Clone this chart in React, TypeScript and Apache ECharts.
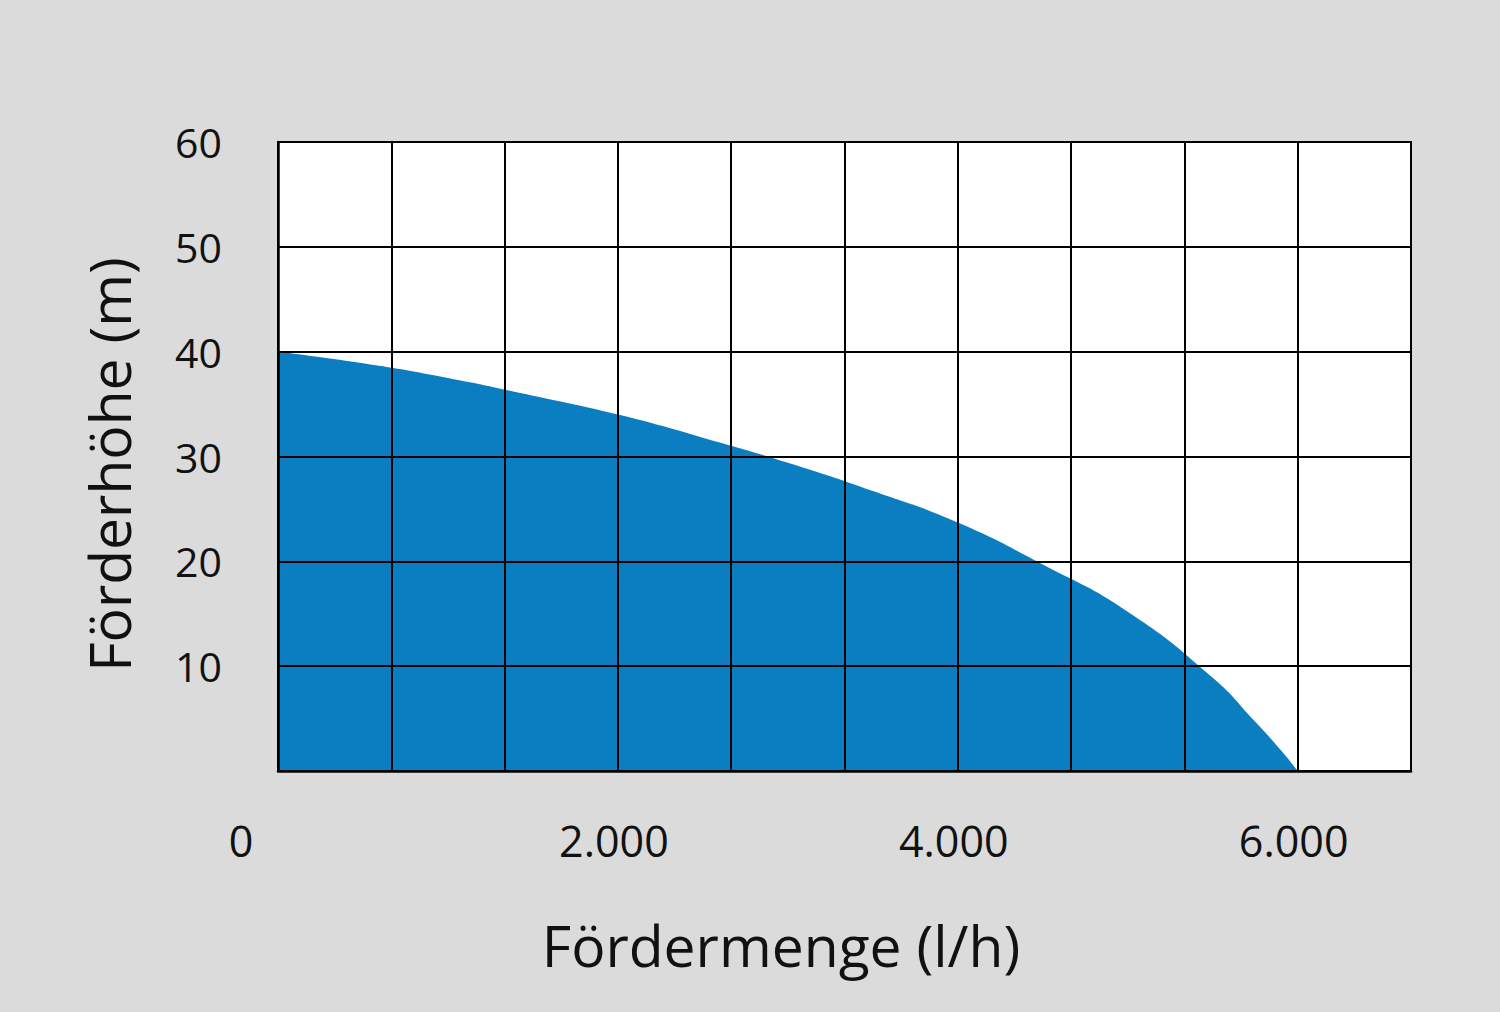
import React, { useEffect, useRef } from "react";
import * as echarts from "echarts";

const flowValues = [0, 500, 1000, 1500, 2000, 2500, 3000, 3500, 4000, 4500, 5000, 5500, 5750, 5900, 6000];
const headValues = [40, 38.9, 37.5, 35.8, 34.0, 31.8, 29.4, 26.7, 23.7, 19.7, 15.2, 8.9, 4.7, 2.0, 0];

const xTickValues = [0, 2000, 4000, 6000];
const xTickLabels = ["0", "2.000", "4.000", "6.000"];
const yTickValues = [10, 20, 30, 40, 50, 60];
const yTickLabels = ["10", "20", "30", "40", "50", "60"];

const xName = "Fördermenge (l/h)";
const yName = "Förderhöhe (m)";

export default function App() {
  const ref = useRef<HTMLDivElement>(null);
  useEffect(() => {
    if (!ref.current) return;
    const chart = echarts.init(ref.current, undefined, { renderer: "svg" });
    const font = "'Open Sans', 'Noto Sans', sans-serif";
    const xMax = 20000 / 3;
    chart.setOption({
      animation: false,
      backgroundColor: "#dbdbdb",
      textStyle: { fontFamily: font },
      grid: {
        left: 278,
        top: 142,
        right: 89,
        bottom: 241,
        show: true,
        backgroundColor: "#ffffff",
        borderColor: "#000000",
        borderWidth: 2,
      },
      xAxis: {
        type: "value",
        min: 0,
        max: xMax,
        interval: xMax / 10,
        z: 10,
        name: xName,
        nameLocation: "middle",
        nameGap: 145,
        nameTextStyle: {
          fontFamily: font,
          fontSize: 57,
          color: "#111111",
          padding: [0, 127, 0, 0],
        },
        axisLine: { show: true, onZero: false, lineStyle: { color: "#000000", width: 2.5 } },
        axisTick: { show: false },
        splitLine: { show: true, lineStyle: { color: "#000000", width: 2 } },
        axisLabel: {
          margin: 48,
          fontFamily: font,
          fontSize: 43,
          color: "#111111",
          formatter: (v: number) => {
            const i = xTickValues.findIndex((t) => Math.abs(t - v) < 1);
            if (i < 0) return "";
            if (i === 0) return "{z|" + xTickLabels[i] + "}";
            return "{n|" + xTickLabels[i] + "}";
          },
          rich: {
            z: {
              fontFamily: font,
              fontSize: 43,
              color: "#111111",
              padding: [0, 74, 0, 0],
            },
            n: {
              fontFamily: font,
              fontSize: 43,
              color: "#111111",
              padding: [0, 8, 0, 0],
            },
          },
        },
      },
      yAxis: {
        type: "value",
        min: 0,
        max: 60,
        interval: 10,
        z: 10,
        name: yName,
        nameLocation: "middle",
        nameGap: 141,
        nameTextStyle: {
          fontFamily: font,
          fontSize: 57,
          color: "#111111",
          padding: [0, 16, 0, 0],
        },
        axisLine: { show: true, onZero: false, lineStyle: { color: "#000000", width: 2.5 } },
        axisTick: { show: false },
        splitLine: { show: true, lineStyle: { color: "#000000", width: 2 } },
        axisLabel: {
          margin: 56,
          fontFamily: font,
          fontSize: 41,
          color: "#111111",
          formatter: (v: number) => {
            const i = yTickValues.indexOf(v);
            return i < 0 ? "" : yTickLabels[i];
          },
        },
      },
      series: [
        {
          type: "line",
          data: flowValues.map((x, i) => [x, headValues[i]]),
          smooth: 0.5,
          showSymbol: false,
          symbol: "none",
          z: 2,
          lineStyle: { width: 0, color: "#0b7ec2" },
          areaStyle: { color: "#0b7ec2", opacity: 1 },
          silent: true,
        },
      ],
    });
    return () => chart.dispose();
  }, []);
  return (
    <div
      ref={ref}
      style={{ position: "fixed", left: 0, top: 0, width: 1500, height: 1012 }}
    />
  );
}
